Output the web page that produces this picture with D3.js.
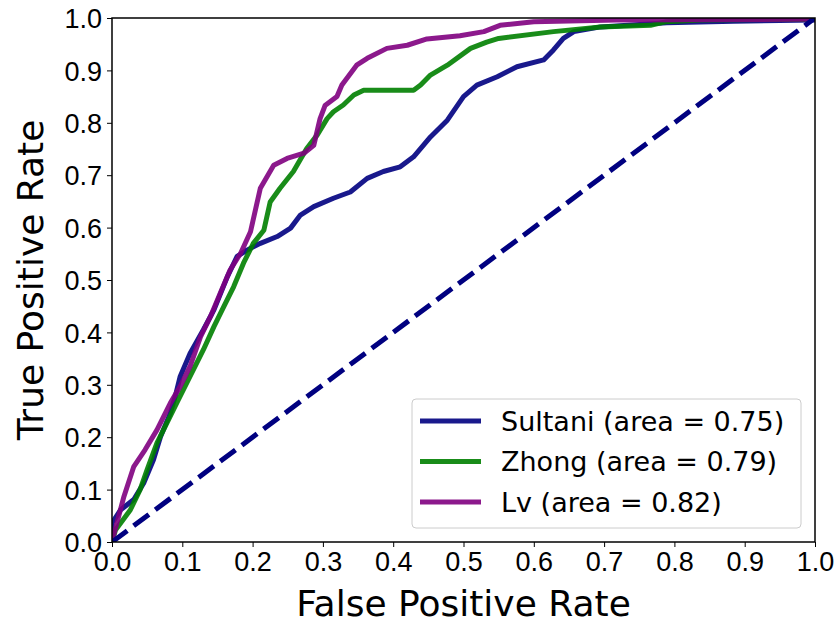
<!DOCTYPE html>
<html>
<head>
    <meta charset="utf-8">
    <style>
        body { margin: 0; background: #fff; }
        svg { font-family: "DejaVu Sans", sans-serif; }
        .tick text { font-size: 27px; fill: #000; }
        .tick line { stroke: #000; }
    </style>
</head>
<body>
<svg width="838" height="623"></svg>
<script src="https://d3js.org/d3.v7.min.js"></script>
<script>
    // ROC points: [fpr, tpr]
    let sultaniFpr = [0, 0, 0.012, 0.031, 0.045, 0.059, 0.069, 0.083, 0.090, 0.097, 0.111, 0.130, 0.145, 0.164, 0.178, 0.192, 0.211, 0.235, 0.254, 0.268, 0.287, 0.315, 0.339, 0.363, 0.386, 0.410, 0.429, 0.453, 0.477, 0.500, 0.519, 0.548, 0.576, 0.614, 0.628, 0.642, 0.657, 0.695, 0.789, 0.884, 1.0, 1.0]
    let sultaniTpr = [0, 0.036, 0.061, 0.081, 0.112, 0.157, 0.201, 0.246, 0.278, 0.316, 0.360, 0.405, 0.443, 0.506, 0.545, 0.557, 0.570, 0.583, 0.599, 0.624, 0.640, 0.656, 0.668, 0.694, 0.707, 0.716, 0.735, 0.773, 0.805, 0.850, 0.872, 0.888, 0.907, 0.920, 0.939, 0.961, 0.974, 0.983, 0.991, 0.994, 0.996, 1.0]

    let zhongFpr = [0, 0.005, 0.026, 0.040, 0.050, 0.064, 0.078, 0.092, 0.111, 0.130, 0.145, 0.159, 0.173, 0.187, 0.201, 0.216, 0.225, 0.239, 0.258, 0.277, 0.292, 0.306, 0.315, 0.329, 0.344, 0.358, 0.429, 0.439, 0.453, 0.477, 0.510, 0.533, 0.550, 0.628, 0.695, 0.766, 0.789, 0.837, 1.0, 1.0]
    let zhongTpr = [0, 0.023, 0.061, 0.100, 0.138, 0.189, 0.227, 0.265, 0.316, 0.367, 0.411, 0.449, 0.487, 0.532, 0.570, 0.595, 0.649, 0.675, 0.707, 0.751, 0.777, 0.808, 0.821, 0.834, 0.853, 0.862, 0.862, 0.872, 0.891, 0.910, 0.942, 0.954, 0.961, 0.974, 0.983, 0.986, 0.993, 0.996, 0.998, 1.0]

    let lvFpr = [0, 0.002, 0.017, 0.031, 0.047, 0.064, 0.083, 0.097, 0.111, 0.126, 0.140, 0.154, 0.168, 0.183, 0.197, 0.211, 0.230, 0.249, 0.273, 0.287, 0.296, 0.303, 0.320, 0.327, 0.348, 0.363, 0.391, 0.420, 0.448, 0.495, 0.529, 0.552, 0.600, 0.718, 0.884, 1.0, 1.0]
    let lvTpr = [0, 0.011, 0.087, 0.144, 0.176, 0.214, 0.265, 0.297, 0.335, 0.392, 0.430, 0.475, 0.519, 0.551, 0.592, 0.675, 0.719, 0.732, 0.742, 0.757, 0.808, 0.833, 0.850, 0.872, 0.910, 0.923, 0.942, 0.948, 0.960, 0.966, 0.974, 0.986, 0.993, 0.996, 0.997, 0.998, 1.0]

    let seriesNames = ["Sultani (area = 0.75)", "Zhong (area = 0.79)", "Lv (area = 0.82)"]
    let seriesColors = ["navy", "green", "purple"]
    let tickValues = [0, 0.1, 0.2, 0.3, 0.4, 0.5, 0.6, 0.7, 0.8, 0.9, 1.0]

    let width = 838
    let height = 623
    let margin = { top: 18, right: 23, bottom: 81, left: 112 }

    let svg = d3.select("svg")

    let x = d3.scaleLinear()
        .domain([0, 1])
        .range([margin.left, width - margin.right])

    let y = d3.scaleLinear()
        .domain([0, 1])
        .range([height - margin.bottom, margin.top])

    let series = [
        sultaniFpr.map((f, i) => [f, sultaniTpr[i]]),
        zhongFpr.map((f, i) => [f, zhongTpr[i]]),
        lvFpr.map((f, i) => [f, lvTpr[i]])
    ]

    let line = d3.line()
        .x(d => x(d[0]))
        .y(d => y(d[1]))

    // clip so the thick lines don't spill past the frame
    svg.append("clipPath")
        .attr("id", "plot")
        .append("rect")
        .attr("x", x(0))
        .attr("y", y(1))
        .attr("width", x(1) - x(0))
        .attr("height", y(0) - y(1))

    let plot = svg.append("g").attr("clip-path", "url(#plot)")

    plot.selectAll("path.roc")
        .data(series)
        .join("path")
        .attr("class", "roc")
        .attr("d", line)
        .attr("fill", "none")
        .attr("stroke", (d, i) => seriesColors[i])
        .attr("stroke-opacity", 0.9)
        .attr("stroke-width", 5)
        .attr("stroke-linejoin", "round")

    // chance line
    plot.append("path")
        .attr("d", line([[0, 0], [1, 1]]))
        .attr("fill", "none")
        .attr("stroke", "navy")
        .attr("stroke-width", 5)
        .attr("stroke-dasharray", "19,8")

    // axes
    let fmt = d3.format(".1f")

    svg.append("g")
        .attr("transform", `translate(0,${y(0)})`)
        .call(d3.axisBottom(x).tickValues(tickValues).tickFormat(fmt).tickSize(5).tickPadding(5))
        .call(g => g.select(".domain").remove())

    svg.append("g")
        .attr("transform", `translate(${x(0)},0)`)
        .call(d3.axisLeft(y).tickValues(tickValues).tickFormat(fmt).tickSize(5).tickPadding(5))
        .call(g => g.select(".domain").remove())
        .call(g => g.selectAll(".tick text").attr("dy", "0.36em"))

    // frame
    svg.append("rect")
        .attr("x", x(0))
        .attr("y", y(1))
        .attr("width", x(1) - x(0))
        .attr("height", y(0) - y(1))
        .attr("fill", "none")
        .attr("stroke", "#000")
        .attr("stroke-width", 1.5)

    svg.append("text")
        .attr("x", (x(0) + x(1)) / 2)
        .attr("y", 616)
        .attr("text-anchor", "middle")
        .style("font-size", "36px")
        .text("False Positive Rate")

    svg.append("text")
        .attr("transform", `translate(43,${(y(0) + y(1)) / 2}) rotate(-90)`)
        .attr("text-anchor", "middle")
        .style("font-size", "36px")
        .text("True Positive Rate")

    // legend
    let legend = svg.append("g")
        .attr("transform", `translate(${x(1) - 403},${y(0) - 143})`)

    legend.append("rect")
        .attr("width", 389)
        .attr("height", 129)
        .attr("rx", 4)
        .attr("fill", "#fff")
        .attr("fill-opacity", 0.8)
        .attr("stroke", "#ccc")
        .attr("stroke-width", 1)

    let rows = legend.selectAll("g.row")
        .data(seriesNames)
        .join("g")
        .attr("class", "row")
        .attr("transform", (d, i) => `translate(0,${22 + i * 40.5})`)

    rows.append("line")
        .attr("x1", 8)
        .attr("x2", 69)
        .attr("stroke", (d, i) => seriesColors[i])
        .attr("stroke-opacity", 0.9)
        .attr("stroke-width", 5)

    rows.append("text")
        .attr("x", 89)
        .attr("dy", "0.36em")
        .style("font-size", "27px")
        .text(d => d)
</script>
</body>
</html>
